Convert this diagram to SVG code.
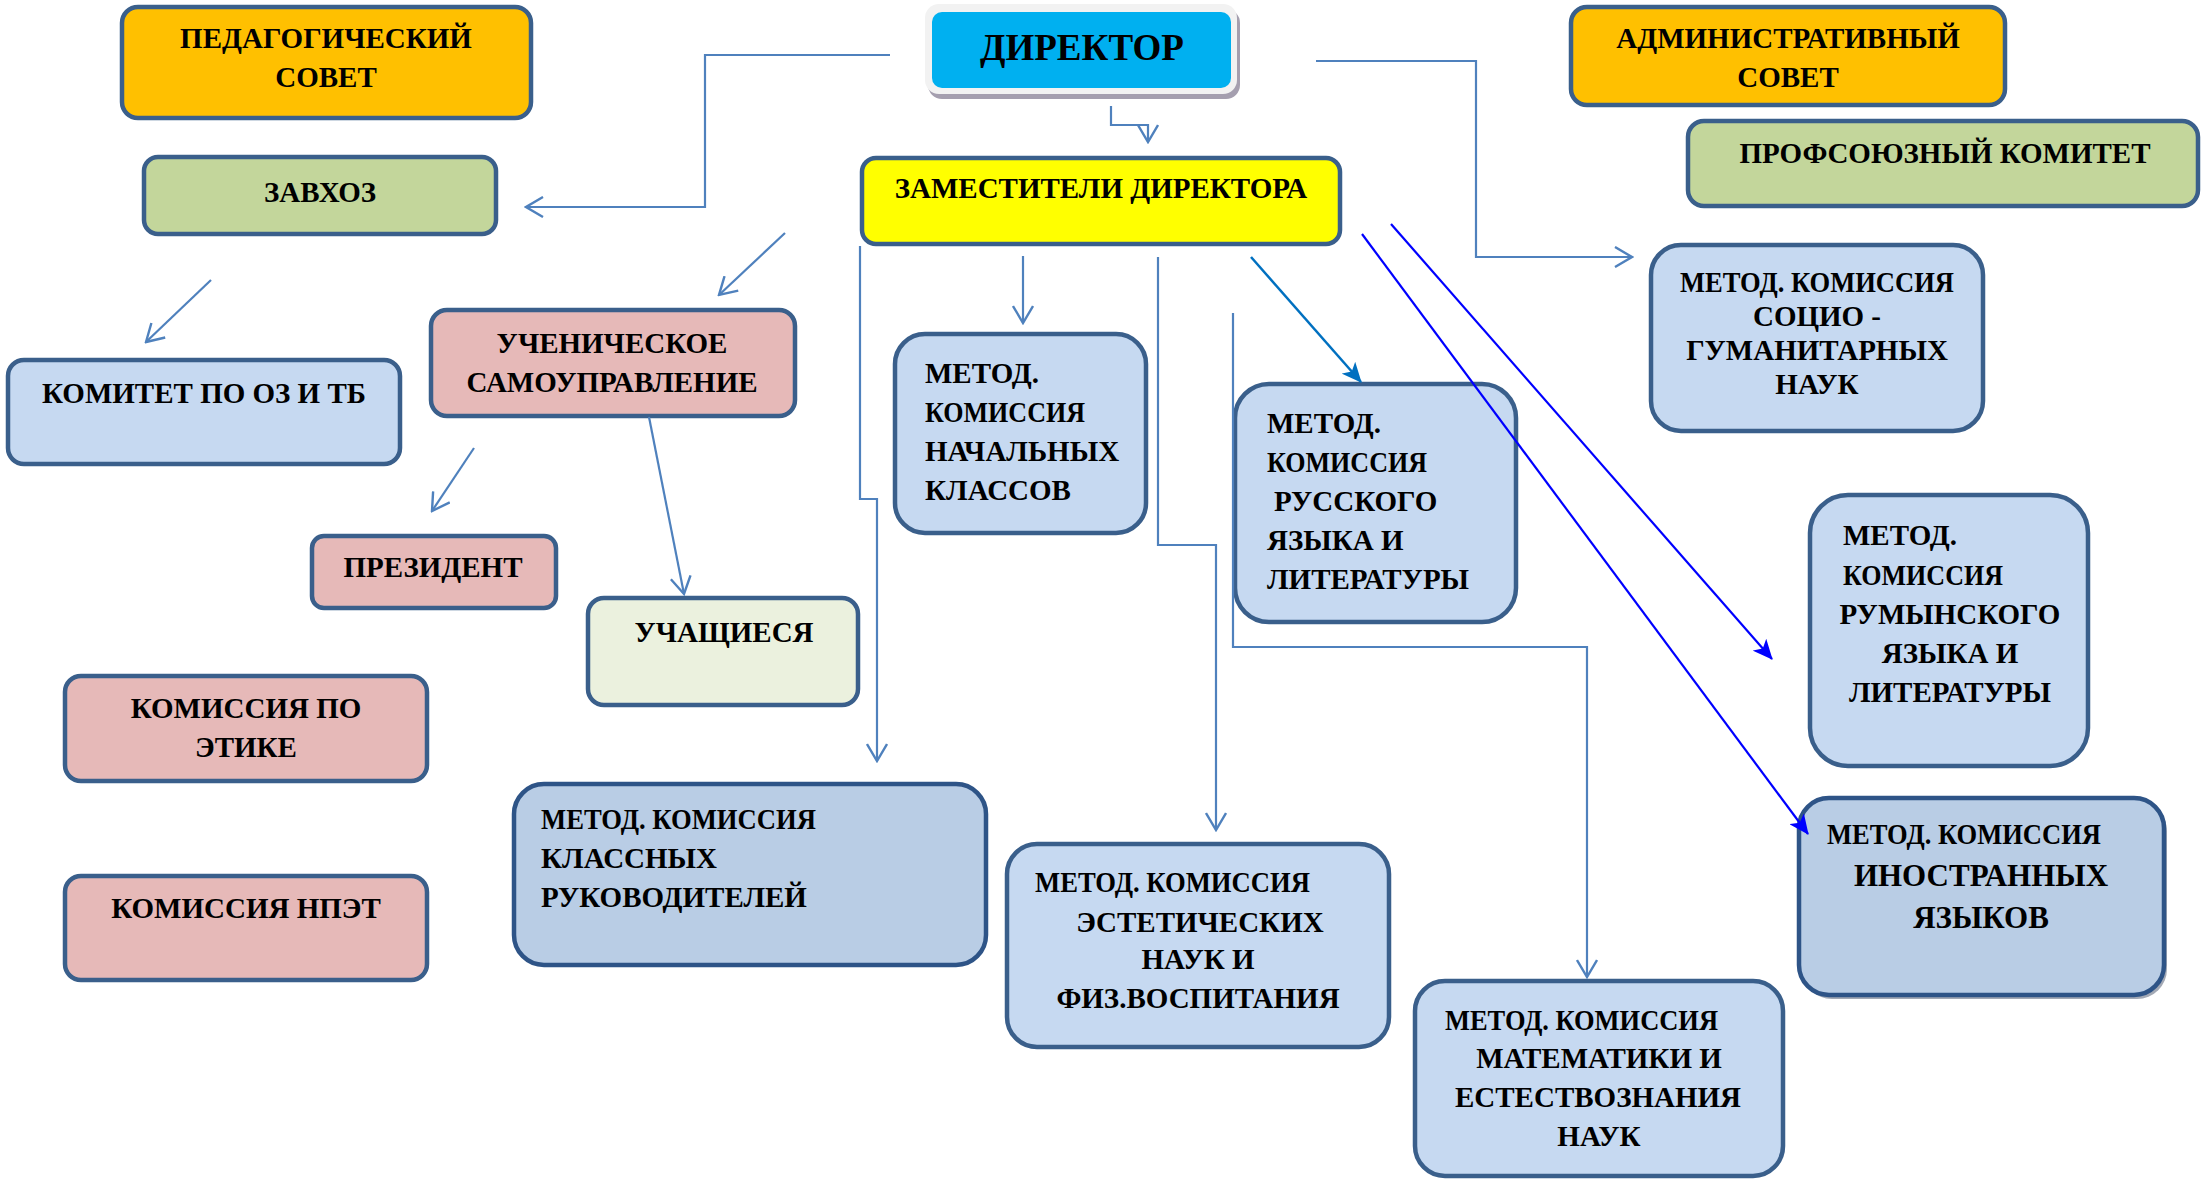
<svg xmlns="http://www.w3.org/2000/svg" width="2201" height="1182" viewBox="0 0 2201 1182">
<style>
  .box { stroke: #3A5F8B; stroke-width: 4.5; }
  .t { font-family: "Liberation Serif", "Times New Roman", serif; font-weight: bold; font-size: 29px; fill: #000; }
  .c { text-anchor: middle; }
  .big { font-size: 31px; }
  .conn { fill: none; stroke: #4F81BD; stroke-width: 2.2; }
  .teal { fill: none; stroke: #0070C0; stroke-width: 2.5; }
  .blue { fill: none; stroke: #0000FF; stroke-width: 2.2; }
</style>
<defs>
  <marker id="open" markerUnits="userSpaceOnUse" viewBox="0 0 20 22" markerWidth="20" markerHeight="22" refX="18" refY="11" orient="auto">
    <path d="M1,1 L18,11 L1,21" fill="none" stroke="#4F81BD" stroke-width="2.4"/>
  </marker>
  <marker id="fillTeal" markerUnits="userSpaceOnUse" viewBox="0 0 20 18" markerWidth="20" markerHeight="18" refX="19" refY="9" orient="auto">
    <path d="M0,0 L20,9 L0,18 L5,9 z" fill="#0070C0"/>
  </marker>
  <marker id="fillBlue" markerUnits="userSpaceOnUse" viewBox="0 0 20 18" markerWidth="20" markerHeight="18" refX="19" refY="9" orient="auto">
    <path d="M0,0 L20,9 L0,18 L5,9 z" fill="#0000FF"/>
  </marker>
</defs>
<rect width="2201" height="1182" fill="#FFFFFF"/>

<g id="ped">
  <rect class="box" x="122" y="7" width="409" height="111" rx="16" fill="#FFC000"/>
  <text class="t c" x="326" y="48">ПЕДАГОГИЧЕСКИЙ</text>
  <text class="t c" x="326" y="87">СОВЕТ</text>
</g>
<g id="director">
  <rect x="928" y="9" width="312" height="90" rx="14" fill="#A59FAF"/>
  <rect x="925" y="4" width="312" height="90" rx="14" fill="#F2F2F2"/>
  <rect x="932" y="12" width="299" height="76" rx="10" fill="#00B0F0"/>
  <text class="t c" x="1082" y="60" style="font-size:37px">ДИРЕКТОР</text>
</g>
<g id="adm">
  <rect class="box" x="1571" y="7" width="434" height="98" rx="16" fill="#FFC000"/>
  <text class="t c" x="1788" y="48">АДМИНИСТРАТИВНЫЙ</text>
  <text class="t c" x="1788" y="87">СОВЕТ</text>
</g>
<g id="prof">
  <rect class="box" x="1688" y="121" width="510" height="85" rx="16" fill="#C3D69B"/>
  <text class="t c" x="1945" y="163">ПРОФСОЮЗНЫЙ КОМИТЕТ</text>
</g>
<g id="zam">
  <rect class="box" x="862" y="158" width="478" height="86" rx="14" fill="#FFFF00"/>
  <text class="t c" x="1101" y="198">ЗАМЕСТИТЕЛИ ДИРЕКТОРА</text>
</g>
<g id="zavhoz">
  <rect class="box" x="144" y="157" width="352" height="77" rx="14" fill="#C3D69B"/>
  <text class="t c" x="320" y="202">ЗАВХОЗ</text>
</g>
<g id="komitet">
  <rect class="box" x="8" y="360" width="392" height="104" rx="16" fill="#C6D9F1"/>
  <text class="t c" x="204" y="403">КОМИТЕТ ПО ОЗ И ТБ</text>
</g>
<g id="uchen">
  <rect class="box" x="431" y="310" width="364" height="106" rx="16" fill="#E6B9B8"/>
  <text class="t c" x="612" y="353">УЧЕНИЧЕСКОЕ</text>
  <text class="t c" x="612" y="392">САМОУПРАВЛЕНИЕ</text>
</g>
<g id="prez">
  <rect class="box" x="312" y="536" width="244" height="72" rx="12" fill="#E6B9B8"/>
  <text class="t c" x="433" y="577">ПРЕЗИДЕНТ</text>
</g>
<g id="uchash">
  <rect class="box" x="588" y="598" width="270" height="107" rx="16" fill="#EBF1DE"/>
  <text class="t c" x="724" y="642">УЧАЩИЕСЯ</text>
</g>
<g id="etika">
  <rect class="box" x="65" y="676" width="362" height="105" rx="16" fill="#E6B9B8"/>
  <text class="t c" x="246" y="718">КОМИССИЯ ПО</text>
  <text class="t c" x="246" y="757">ЭТИКЕ</text>
</g>
<g id="npet">
  <rect class="box" x="65" y="876" width="362" height="104" rx="16" fill="#E6B9B8"/>
  <text class="t c" x="246" y="918">КОМИССИЯ НПЭТ</text>
</g>
<g id="klass">
  <rect class="box" x="514" y="784" width="472" height="181" rx="30" fill="#B9CDE5" style="stroke:#2E5487"/>
  <text class="t" x="541" y="829" textLength="275" lengthAdjust="spacingAndGlyphs">МЕТОД. КОМИССИЯ</text>
  <text class="t" x="541" y="868">КЛАССНЫХ</text>
  <text class="t" x="541" y="907">РУКОВОДИТЕЛЕЙ</text>
</g>
<g id="nach">
  <rect class="box" x="895" y="334" width="251" height="199" rx="30" fill="#C6D9F1"/>
  <text class="t" x="925" y="383">МЕТОД.</text>
  <text class="t" x="925" y="422" textLength="160" lengthAdjust="spacingAndGlyphs">КОМИССИЯ</text>
  <text class="t" x="925" y="461">НАЧАЛЬНЫХ</text>
  <text class="t" x="925" y="500">КЛАССОВ</text>
</g>
<g id="rus">
  <rect class="box" x="1235" y="384" width="281" height="238" rx="34" fill="#C6D9F1"/>
  <text class="t" x="1267" y="433">МЕТОД.</text>
  <text class="t" x="1267" y="472" textLength="160" lengthAdjust="spacingAndGlyphs">КОМИССИЯ</text>
  <text class="t" x="1274" y="511">РУССКОГО</text>
  <text class="t" x="1267" y="550">ЯЗЫКА И</text>
  <text class="t" x="1267" y="589">ЛИТЕРАТУРЫ</text>
</g>
<g id="socio">
  <rect class="box" x="1651" y="245" width="332" height="186" rx="30" fill="#C6D9F1"/>
  <text class="t c" x="1817" y="292" textLength="274" lengthAdjust="spacingAndGlyphs">МЕТОД. КОМИССИЯ</text>
  <text class="t c" x="1817" y="326">СОЦИО -</text>
  <text class="t c" x="1817" y="360">ГУМАНИТАРНЫХ</text>
  <text class="t c" x="1817" y="394">НАУК</text>
</g>
<g id="rum">
  <rect class="box" x="1810" y="495" width="278" height="271" rx="38" fill="#C6D9F1"/>
  <text class="t" x="1843" y="545">МЕТОД.</text>
  <text class="t" x="1843" y="585" textLength="160" lengthAdjust="spacingAndGlyphs">КОМИССИЯ</text>
  <text class="t c" x="1950" y="624">РУМЫНСКОГО</text>
  <text class="t c" x="1950" y="663">ЯЗЫКА И</text>
  <text class="t c" x="1950" y="702">ЛИТЕРАТУРЫ</text>
</g>
<g id="inostr">
  <rect x="1802" y="801" width="365" height="198" rx="30" fill="#A3A9B5"/>
  <rect class="box" x="1799" y="798" width="365" height="197" rx="30" fill="#B9CDE5" style="stroke:#2E5487"/>
  <text class="t" x="1827" y="844" textLength="274" lengthAdjust="spacingAndGlyphs">МЕТОД. КОМИССИЯ</text>
  <text class="t c big" x="1981" y="886">ИНОСТРАННЫХ</text>
  <text class="t c big" x="1981" y="928">ЯЗЫКОВ</text>
</g>
<g id="estet">
  <rect class="box" x="1007" y="844" width="382" height="203" rx="30" fill="#C6D9F1"/>
  <text class="t" x="1035" y="892" textLength="275" lengthAdjust="spacingAndGlyphs">МЕТОД. КОМИССИЯ</text>
  <text class="t c" x="1200" y="932">ЭСТЕТИЧЕСКИХ</text>
  <text class="t c" x="1198" y="969">НАУК И</text>
  <text class="t c" x="1198" y="1008">ФИЗ.ВОСПИТАНИЯ</text>
</g>
<g id="matem">
  <rect class="box" x="1415" y="981" width="368" height="195" rx="30" fill="#C6D9F1"/>
  <text class="t" x="1445" y="1030" textLength="273" lengthAdjust="spacingAndGlyphs">МЕТОД. КОМИССИЯ</text>
  <text class="t c" x="1599" y="1068">МАТЕМАТИКИ И</text>
  <text class="t c" x="1598" y="1107">ЕСТЕСТВОЗНАНИЯ</text>
  <text class="t c" x="1599" y="1146">НАУК</text>
</g>

<g id="connectors">
  <polyline class="conn" points="890,55 705,55 705,207 526,207" marker-end="url(#open)"/>
  <polyline class="conn" points="1316,61 1476,61 1476,257 1632,257" marker-end="url(#open)"/>
  <polyline class="conn" points="1111,106 1111,125 1148,125 1148,142" marker-end="url(#open)"/>
  <line class="conn" x1="785" y1="233" x2="719" y2="295" marker-end="url(#open)"/>
  <line class="conn" x1="211" y1="280" x2="146" y2="342" marker-end="url(#open)"/>
  <line class="conn" x1="474" y1="448" x2="432" y2="511" marker-end="url(#open)"/>
  <line class="conn" x1="649" y1="417" x2="684" y2="594" marker-end="url(#open)"/>
  <polyline class="conn" points="860,246 860,499 877,499 877,761" marker-end="url(#open)"/>
  <line class="conn" x1="1023" y1="256" x2="1023" y2="323" marker-end="url(#open)"/>
  <polyline class="conn" points="1158,257 1158,545 1216,545 1216,830" marker-end="url(#open)"/>
  <polyline class="conn" points="1233,313 1233,647 1587,647 1587,977" marker-end="url(#open)"/>
  <line class="teal" x1="1251" y1="257" x2="1361" y2="382" marker-end="url(#fillTeal)"/>
  <line class="blue" x1="1391" y1="224" x2="1772" y2="659" marker-end="url(#fillBlue)"/>
  <line class="blue" x1="1362" y1="234" x2="1808" y2="834" marker-end="url(#fillBlue)"/>
</g>
</svg>
